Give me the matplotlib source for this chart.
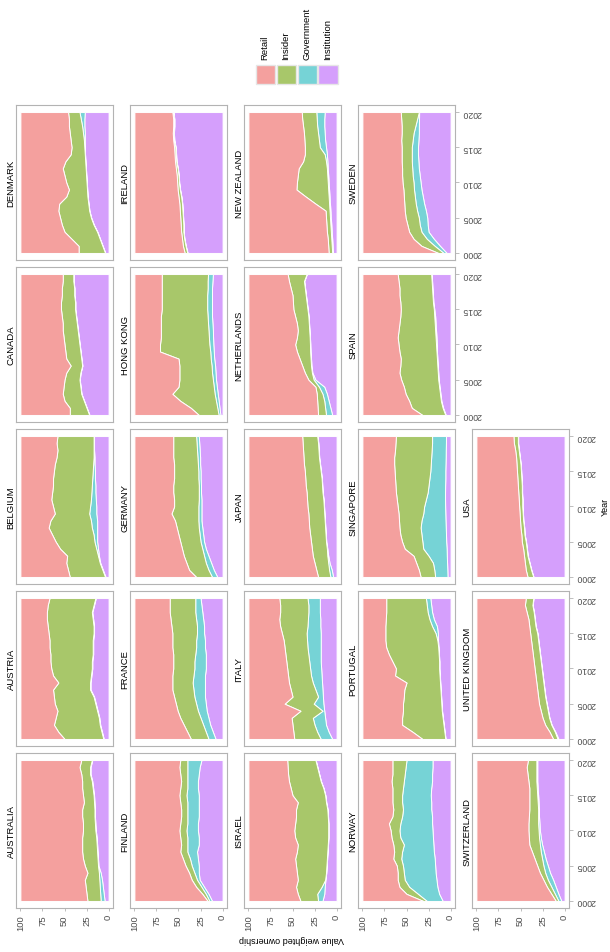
import numpy as np
import matplotlib
matplotlib.use("Agg")
import matplotlib.pyplot as plt
from matplotlib.patches import Rectangle

plt.rcParams['font.family'] = ['Liberation Sans', 'DejaVu Sans']

# Data (shares in %; retail is what is left up to 100)
years = list(range(2000, 2021))
countries = ["AUSTRALIA", "AUSTRIA", "BELGIUM", "CANADA", "DENMARK",
             "FINLAND", "FRANCE", "GERMANY", "HONG KONG", "IRELAND",
             "ISRAEL", "ITALY", "JAPAN", "NETHERLANDS", "NEW ZEALAND",
             "NORWAY", "PORTUGAL", "SINGAPORE", "SPAIN", "SWEDEN",
             "SWITZERLAND", "UNITED KINGDOM", "USA"]
categories = ["Retail", "Insider", "Government", "Institution"]
cat_colors = ["#F4A09E", "#A8C76A", "#76D3D6", "#D59FFC"]
value_ticks = [100, 75, 50, 25, 0]
year_ticks = [2000, 2005, 2010, 2015, 2020]

institution = {
    "AUSTRALIA": [4.5, 5.5, 6.5, 7.5, 9, 11.5, 12, 12.5, 13, 13.5, 14.5, 15, 15.5, 15.5, 16, 16.5, 17.5, 18.5, 20.5, 20.5, 18.5],
    "AUSTRIA": [5.5, 7.5, 9.5, 10.5, 12.5, 14.5, 16.5, 20.5, 20.5, 19.5, 18.5, 18.5, 17.5, 17.5, 17.5, 16.5, 16.5, 17.5, 18.5, 16.5, 14.5],
    "BELGIUM": [3.5, 6.5, 9.5, 11, 12, 13, 13, 13, 13, 14, 14, 14.5, 15, 15, 15.5, 15.5, 16, 16, 16.5, 16.5, 16.5],
    "CANADA": [21.7, 24.7, 27.7, 30.7, 31.7, 32.7, 31.7, 29.7, 30.7, 31.7, 32.7, 33.7, 34.7, 35.7, 36.7, 37.7, 37.7, 38.7, 38.7, 39.7, 39.7],
    "DENMARK": [3.7, 6.7, 9.7, 12.7, 16.7, 19.7, 21.7, 22.7, 23.7, 24.2, 24.7, 25.2, 25.7, 26.2, 26.7, 27, 27, 27, 27.5, 27.5, 27],
    "FINLAND": [12, 16, 21, 26, 27, 27, 28, 29, 27, 27, 28, 28, 27, 27, 27, 27, 28, 28, 27, 26, 24],
    "FRANCE": [8, 11, 14, 16, 18, 19, 20, 20, 20, 20, 19, 19, 19, 20, 20, 21, 21, 22, 23, 24, 25],
    "GERMANY": [6, 10, 13, 16, 19, 21, 22, 23, 24, 24, 24, 24, 24.5, 24.5, 25, 25, 25.5, 25.5, 26, 26.5, 27],
    "HONG KONG": [2.5, 3.5, 4.5, 5.5, 6.5, 7.5, 8, 8.5, 9.5, 10, 10.5, 10.8, 11, 11.5, 12, 12, 12, 12, 12, 11.5, 11],
    "IRELAND": [39.7, 41.7, 43.2, 44.2, 44.2, 44.7, 45.2, 45.7, 46.7, 48.2, 49.2, 49.7, 50.7, 52.2, 52.7, 53.2, 54.7, 55.2, 54.7, 54.7, 55.7],
    "ISRAEL": [16, 14, 13.5, 12.7, 11.7, 11.2, 10.7, 10.2, 9.7, 9.2, 9.2, 9.2, 9.7, 10.2, 11.7, 12.7, 14.7, 17.7, 19.7, 21.7, 23.7],
    "ITALY": [5, 9, 12, 13, 14, 15, 15.5, 16, 16.5, 17, 17.5, 18, 18, 18, 18, 18, 18.5, 18.5, 19, 19, 19],
    "JAPAN": [4, 5.5, 8, 9.5, 10.5, 11.7, 12.2, 12.7, 13.2, 13.7, 14.2, 14.7, 15.7, 16.2, 16.7, 17.7, 18.7, 19.7, 20.2, 20.7, 21.7],
    "NETHERLANDS": [5, 7, 9, 11, 14, 24, 27.5, 28.5, 29, 29.5, 29.8, 30.2, 30.7, 31.2, 31.7, 32.7, 33.7, 34.7, 35.7, 36.7, 33.7],
    "NEW ZEALAND": [4, 4.5, 5, 5.5, 6, 6.5, 7, 7.5, 8, 8.5, 9, 9.5, 10, 10.5, 11, 12, 13, 13.5, 14, 14, 13.5],
    "NORWAY": [9, 13, 15, 16, 17, 17.5, 18, 19, 19.5, 20, 20.5, 21, 21, 22, 22, 22.5, 22, 21, 21, 20.5, 20.5],
    "PORTUGAL": [5.7, 6.7, 7.7, 8.7, 9.7, 10.2, 10.7, 11.2, 11.7, 12.2, 12.7, 12.7, 13.2, 13.7, 14.3, 14.5, 15.5, 19, 21, 22, 23],
    "SINGAPORE": [3.5, 3.7, 4, 4.3, 4.5, 5, 5.2, 5.5, 5.8, 6, 6.2, 6.3, 6.3, 6.2, 6, 6, 5.8, 5.6, 5.5, 5.3, 5.2],
    "SPAIN": [5.5, 8.5, 10.5, 11.5, 12.5, 13.5, 14, 14.5, 15, 15.5, 15.5, 16, 16.5, 17, 17.5, 18.5, 19.5, 20, 20.5, 21, 21.5],
    "SWEDEN": [4.5, 12, 19, 25, 26, 26.5, 28, 30, 31.5, 33, 34, 35, 36, 36.5, 37, 37, 36.5, 36, 36, 35.8, 35.7],
    "SWITZERLAND": [3.7, 7, 10, 13, 16.5, 19, 21.5, 23.5, 25.5, 27, 28, 28.5, 29, 29, 29.5, 30, 30.5, 31, 31, 31, 31],
    "UNITED KINGDOM": [7, 10.5, 14.7, 17.2, 18.7, 20.2, 21.7, 22.7, 23.7, 24.7, 25.7, 26.7, 27.7, 28.7, 29.7, 30.7, 32.7, 33.7, 34.7, 36.2, 35.2],
    "USA": [35.2, 37.7, 39.7, 41.7, 42.7, 43.7, 45.2, 45.7, 46.7, 47.2, 47.7, 47.7, 48.2, 48.2, 48.7, 49.2, 49.7, 50.7, 51.7, 52.7, 52.7],
}

government = {
    "AUSTRALIA": [4.5, 4, 3.5, 3, 2, 0.5, 0.5, 0.5, 0.5, 0.5, 0.5, 0.5, 0.5, 0.5, 0.5, 0.5, 0.5, 0.5, 0.5, 0.5, 0.5],
    "AUSTRIA": [0.5, 0.5, 0.5, 0.5, 0.5, 0.5, 0.5, 0.5, 0.5, 0.5, 0.5, 0.5, 0.5, 0.5, 0.5, 0.5, 0.5, 0.5, 0.5, 0.5, 0.5],
    "BELGIUM": [0.5, 0.5, 0.5, 1, 2, 3, 4, 6, 7, 8, 7, 5.5, 4.5, 4, 3, 2.5, 1.5, 1, 0.5, 0.5, 0.5],
    "CANADA": [0.3, 0.3, 0.3, 0.3, 0.3, 0.3, 0.3, 0.3, 0.3, 0.3, 0.3, 0.3, 0.3, 0.3, 0.3, 0.3, 0.3, 0.3, 0.3, 0.3, 0.3],
    "DENMARK": [0.3, 0.3, 0.3, 0.3, 0.3, 0.3, 0.3, 0.3, 0.3, 0.3, 0.3, 0.3, 0.3, 0.3, 0.3, 0.5, 1, 2, 2.5, 4, 6],
    "FINLAND": [3, 3, 3, 3, 5, 8, 9, 11, 13, 13, 13, 12, 13, 13, 13, 14, 12, 12, 13, 14, 16],
    "FRANCE": [8, 8, 8, 9, 10, 11, 12, 13, 14, 13, 13, 13, 12, 10, 10, 8, 8, 8, 8, 7, 6],
    "GERMANY": [6, 6, 6, 5, 4, 4, 4, 4, 3.5, 3.5, 3.5, 3, 2.5, 2.5, 2.5, 2.5, 2.5, 3, 3, 3, 3],
    "HONG KONG": [2, 2.5, 3, 3.5, 3.5, 3.5, 4, 4, 4, 4, 4.5, 4.7, 5, 5, 5, 5.5, 5.5, 5.5, 5, 5.5, 5.5],
    "IRELAND": [0.3, 0.3, 0.3, 0.3, 0.3, 0.3, 0.3, 0.3, 0.3, 0.3, 0.3, 0.3, 0.3, 0.3, 0.3, 0.3, 0.3, 0.3, 0.3, 0.3, 0.3],
    "ISRAEL": [5, 8, 3.5, 0.3, 0.3, 0.3, 0.3, 0.3, 0.3, 0.3, 0.3, 0.3, 0.3, 0.3, 0.3, 0.3, 0.3, 0.3, 0.3, 0.3, 0.3],
    "ITALY": [13, 13, 13, 14, 2, 11, 5.5, 8, 10.5, 12, 12.5, 13, 14, 15, 15.5, 16, 14.5, 14, 13, 13, 14],
    "JAPAN": [3, 3, 1.5, 1, 0.5, 0.3, 0.3, 0.3, 0.3, 0.3, 0.3, 0.3, 0.3, 0.3, 0.3, 0.3, 0.3, 0.3, 0.3, 0.3, 0.3],
    "NETHERLANDS": [7, 6, 5, 5, 6, 2, 0.5, 0.5, 0.5, 0.5, 0.4, 0.3, 0.3, 0.3, 0.3, 0.3, 0.3, 0.3, 0.3, 0.3, 0.3],
    "NEW ZEALAND": [1, 1, 1, 1, 1, 1, 1, 1, 1, 1, 1, 1, 1, 1.5, 2.5, 7, 7, 7.5, 8, 8.5, 9.5],
    "NORWAY": [18, 24, 32, 36, 36, 36.5, 38, 36, 33.5, 37, 37.5, 36, 34, 32, 33, 32.5, 32, 32, 31, 30.5, 29.5],
    "PORTUGAL": [0.3, 0.3, 0.3, 0.3, 0.3, 0.3, 0.3, 0.3, 0.3, 0.3, 0.3, 0.3, 0.3, 0.3, 0.7, 2.5, 5.5, 5, 5, 5, 5],
    "SINGAPORE": [14, 14.8, 16, 20.7, 26.5, 27, 27.8, 28.5, 27.2, 25, 23.8, 21.7, 19.7, 18.8, 18, 17, 16.7, 16.4, 16, 15.7, 15.8],
    "SPAIN": [0.5, 0.5, 0.5, 0.5, 0.5, 0.5, 0.5, 0.5, 0.5, 0.5, 1, 1, 1, 1, 1, 0.5, 0.5, 0.5, 0.5, 0.5, 0.5],
    "SWEDEN": [3.5, 6, 8, 8, 9, 9.5, 10, 9.5, 9, 8.5, 8, 8, 7.5, 7.5, 7, 7, 6.5, 6, 4, 2.2, 0.3],
    "SWITZERLAND": [3.3, 4, 5, 6, 5.5, 5, 4, 3.5, 2.5, 2, 1.5, 1.5, 1, 1, 1, 1, 1, 1, 1, 1, 1],
    "UNITED KINGDOM": [1, 0.5, 0.3, 0.3, 0.3, 0.3, 0.3, 0.3, 0.3, 0.3, 0.3, 0.3, 0.3, 0.3, 0.3, 0.3, 0.3, 0.3, 0.3, 0.3, 0.3],
    "USA": [0.3, 0.3, 0.3, 0.3, 0.3, 0.3, 0.3, 0.3, 0.3, 0.3, 0.3, 0.3, 0.3, 0.3, 0.3, 0.3, 0.3, 0.3, 0.3, 0.3, 0.3],
}

insider = {
    "AUSTRALIA": [15, 15.5, 16, 16.5, 13, 15, 16.5, 17, 16.5, 16, 14, 13.5, 14, 14, 11.5, 12, 12, 11, 10, 12, 12],
    "AUSTRIA": [44, 49, 52, 49, 45, 46, 45, 42, 36, 43, 46, 47, 48, 49, 49, 51, 52, 52, 51, 52, 52],
    "BELGIUM": [40, 39, 38, 35, 41, 44, 47, 49, 46, 39, 42, 45, 44.5, 44, 44.5, 44, 43.5, 42, 41, 42, 41],
    "CANADA": [22, 19, 22, 21, 19, 17, 16, 13, 17, 17, 17, 17, 17, 16, 16, 16, 16, 14, 14, 12, 12],
    "DENMARK": [30, 27, 32, 37, 36, 35, 35, 33, 24, 20.5, 23, 24.5, 26, 22.5, 16, 14.5, 15, 15, 15, 13.5, 13],
    "FINLAND": [2, 4, 6, 6, 6, 7, 8, 8, 7, 8, 8, 8, 7, 7, 8, 8, 8, 7, 8, 9, 8],
    "FRANCE": [20, 21, 22, 23, 23, 23, 23, 24, 23, 24, 24, 24, 25, 27, 27, 28, 29, 29, 29, 29, 29],
    "GERMANY": [18, 22, 22, 23, 23, 23, 24, 25, 26.5, 30.5, 27.5, 28, 29, 29, 27.5, 27.5, 27, 27.5, 27, 26.5, 26],
    "HONG KONG": [22.5, 30, 40.5, 48, 40, 38, 37, 36.5, 36.5, 57, 56, 54.5, 54, 53.5, 53, 51.5, 51.5, 51.5, 52, 52, 52.5],
    "IRELAND": [3, 3, 2.5, 2.5, 3, 3, 3, 3, 3, 2.5, 2, 2, 2, 1.5, 1.5, 1.5, 1, 1, 1, 1, 1],
    "ISRAEL": [20, 22, 29, 31, 33, 34.5, 36, 34.5, 34, 37.5, 38.5, 37.5, 36, 35.5, 32, 37, 37, 36, 35, 33.5, 32],
    "ITALY": [30, 27, 25, 24, 25, 33, 29, 28, 27, 26, 26, 26, 26, 26, 26.5, 28, 31, 32.5, 32, 32, 32],
    "JAPAN": [14, 14.5, 15.5, 16.5, 17, 17, 17.5, 18, 18, 18, 18.5, 18.5, 18, 18.5, 18.5, 18, 18, 17.5, 17.5, 17.5, 17],
    "NETHERLANDS": [9, 8.5, 8, 6.5, 4, 6, 8, 10, 12.5, 15, 16.8, 14.5, 13, 13.5, 15, 16, 15.5, 15, 16, 17, 21.5],
    "NEW ZEALAND": [4, 4, 4, 4.5, 4.5, 4.5, 4.5, 15.5, 26, 36, 35, 33.5, 32, 26, 22.5, 17, 16.5, 16, 16, 16.5, 16.5],
    "NORWAY": [4, 13, 11, 8, 7, 7, 9, 9, 12, 10, 10, 13, 11, 11, 11, 11, 12, 14, 14, 15, 16],
    "PORTUGAL": [26, 36, 47, 46, 44, 43.5, 42, 41, 38, 50.5, 49, 53, 56.5, 59, 59, 57, 53, 49.5, 47, 46, 45],
    "SINGAPORE": [16.5, 17.5, 19, 17, 21, 23, 24, 24, 25.5, 28, 30, 33, 36, 37.5, 39, 40.5, 41.5, 42, 41.5, 41.5, 41],
    "SPAIN": [26, 35, 36, 39, 40, 42, 43.5, 42, 41, 42, 42.5, 43, 41.5, 40, 38.5, 37.5, 37, 37.5, 37, 37.5, 38],
    "SWEDEN": [6, 15, 15, 14, 14, 15, 14, 13, 12.5, 12, 12.5, 12, 11.5, 11.5, 11.5, 11.5, 13, 13.5, 15.5, 18, 20.5],
    "SWITZERLAND": [3, 4, 5, 5, 6, 7, 8.5, 10, 12, 11.5, 11.5, 11, 10.5, 10, 9.5, 9, 8.5, 9, 10, 11, 9.5],
    "UNITED KINGDOM": [5, 6, 7, 7.5, 8, 8.5, 8, 8, 8, 8, 8, 8, 8, 8, 8, 8, 7, 7, 8, 8.5, 8.5],
    "USA": [6.5, 6, 5, 4, 4, 4.5, 3.5, 4, 3.5, 3.5, 3.5, 4, 4, 4.5, 4.5, 4.5, 4.5, 4, 4, 4.5, 5],
}

# Layout in pixels (picture is the facet grid turned a quarter turn)
W, H = 610, 953
col_left = [16, 130, 244, 358, 472]
row_top = [106, 268, 430, 592, 754]
panel_w, panel_h = 97, 155
grey_line = "#B3B3B3"
tick_text = "#4D4D4D"


def fig_box(x, y, w, h):
    return [x / W, 1 - (y + h) / H, w / W, h / H]


fig = plt.figure(figsize=(W / 100, H / 100), dpi=100)

for k, country in enumerate(countries):
    col = k // 5
    row = 4 - (k % 5)
    ax = fig.add_axes(fig_box(col_left[col], row_top[row], panel_w, panel_h))

    inst = np.array(institution[country])
    gov = np.array(government[country])
    ins = np.array(insider[country])
    retail = 100 - inst - gov - ins
    layers = [inst, gov, ins, retail]
    layer_colors = [cat_colors[3], cat_colors[2], cat_colors[1], cat_colors[0]]

    lower = np.zeros(len(years))
    for vals, colr in zip(layers, layer_colors):
        upper = lower + vals
        ax.fill_betweenx(years, lower, upper, facecolor=colr,
                         edgecolor="white", linewidth=0.7)
        lower = upper

    ax.set_xlim(105, -5)
    ax.set_ylim(1999, 2021)
    for sp in ax.spines.values():
        sp.set_color(grey_line)
        sp.set_linewidth(0.8)

    # value axis only on the bottom row
    if k % 5 == 0:
        ax.set_xticks(value_ticks)
        ax.set_xticklabels([str(v) for v in value_ticks], rotation=90,
                           fontsize=6.8, color=tick_text)
        ax.tick_params(axis="x", length=2.5, width=0.6, color=grey_line, pad=2)
    else:
        ax.set_xticks([])

    # year axis on panels with nothing to their right
    if col == 4 or (col == 3 and k % 5 >= 3):
        ax.yaxis.tick_right()
        ax.set_yticks(year_ticks)
        ax.set_yticklabels([str(y) for y in year_ticks], rotation=180,
                           fontsize=6.3, color=tick_text, va="center")
        ax.tick_params(axis="y", length=3, width=0.6, color=grey_line, pad=2)
    else:
        ax.set_yticks([])

    # facet label
    fig.text((col_left[col] - 5) / W, 1 - (row_top[row] + panel_h / 2) / H,
             country, rotation=90, ha="center", va="center", fontsize=6.8)

# axis titles
fig.text(292 / W, 1 - 940 / H, "Value weighted ownership", rotation=180,
         ha="center", va="center", fontsize=6.5)
fig.text(605 / W, 1 - 507 / H, "Year", rotation=90,
         ha="center", va="center", fontsize=6.5)

# legend
key_x = [265, 286, 307, 328]
key_size = 19
for lab, colr, cx in zip(categories, cat_colors, key_x):
    fig.patches.append(Rectangle(((cx - key_size / 2) / W, 1 - (75 + key_size / 2) / H),
                                 key_size / W, key_size / H, transform=fig.transFigure,
                                 facecolor=colr, edgecolor="#E6E6E6", linewidth=1.0))
    fig.text(cx / W, 1 - 60 / H, lab, rotation=90, ha="center", va="bottom",
             fontsize=6.8)

fig.savefig("out.png", dpi=100)
